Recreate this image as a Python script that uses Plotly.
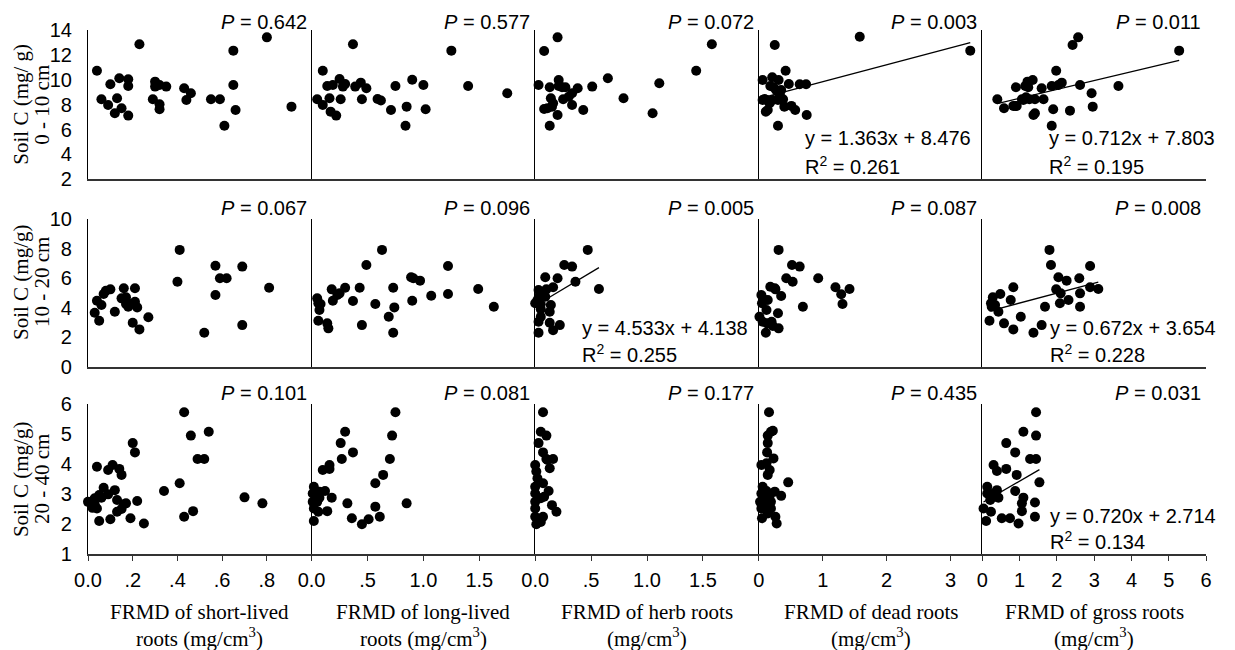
import plotly.graph_objects as go
from plotly.subplots import make_subplots

# soil C (mg/g) against fine root mass density (mg/cm3), one x/y pair per panel

# ---- 0 - 10 cm ----
short_0_10_x = [0.04, 0.23, 0.06, 0.09, 0.10, 0.12, 0.13, 0.14, 0.15, 0.18, 0.18, 0.18, 0.29, 0.30, 0.30,
                0.32, 0.32, 0.32, 0.35, 0.43, 0.46, 0.44, 0.55, 0.59, 0.65, 0.65, 0.66, 0.61, 0.80, 0.91]
short_0_10_y = [10.73, 12.85, 8.43, 7.98, 9.64, 7.31, 8.51, 10.12, 7.71, 10.04, 9.50, 7.12, 8.43, 9.85, 9.45,
                9.58, 8.03, 7.63, 9.45, 9.32, 8.92, 8.38, 8.43, 8.43, 12.34, 9.58, 7.57, 6.31, 13.41, 7.84]

long_0_10_x = [0.05, 0.10, 0.10, 0.14, 0.16, 0.17, 0.19, 0.22, 0.25, 0.26, 0.28, 0.30, 0.37, 0.39, 0.44,
               0.45, 0.49, 0.59, 0.62, 0.71, 0.75, 0.85, 0.84, 0.90, 1.00, 1.02, 1.25, 1.40, 1.75]
long_0_10_y = [8.44, 10.73, 7.98, 9.50, 8.51, 7.44, 9.58, 7.12, 10.06, 8.43, 9.45, 9.66, 12.85, 9.45, 9.77,
               8.43, 9.32, 8.46, 8.33, 7.57, 9.50, 7.84, 6.31, 10.00, 9.58, 7.63, 12.34, 9.50, 8.92]

herb_0_10_x = [0.03, 0.08, 0.20, 0.13, 0.14, 0.16, 0.08, 0.13, 0.20, 0.21, 0.21, 0.24, 0.27, 0.25,
               0.30, 0.33, 0.38, 0.33, 0.43, 0.51, 0.65, 0.79, 1.05, 1.11, 1.44, 1.58, 0.15, 0.11]
herb_0_10_y = [9.58, 12.31, 13.41, 9.40, 8.51, 8.11, 7.65, 6.31, 7.17, 9.98, 9.50, 9.40, 9.40, 8.43,
               8.64, 8.92, 9.32, 7.98, 7.57, 9.45, 10.12, 8.51, 7.31, 9.72, 10.73, 12.85, 7.84, 7.71]

dead_0_10_x = [0.06, 0.09, 0.11, 0.14, 0.18, 0.21, 0.23, 0.25, 0.27, 0.30, 0.30, 0.31, 0.35, 0.38, 0.40,
               0.42, 0.47, 0.51, 0.57, 0.64, 0.74, 0.75, 1.58, 3.31, 0.12, 0.22, 0.33, 0.17, 0.06]
dead_0_10_y = [9.98, 8.46, 7.44, 7.57, 9.50, 10.20, 9.40, 12.80, 9.18, 8.38, 6.31, 9.98, 9.18, 8.43, 7.84,
               10.73, 9.66, 7.90, 7.57, 9.64, 9.64, 7.17, 13.46, 12.34, 8.38, 8.38, 8.78, 8.11, 8.38]

gross_0_10_x = [0.40, 0.58, 0.83, 0.92, 0.90, 1.06, 1.15, 1.17, 1.21, 1.23, 1.26, 1.35, 1.37, 1.41, 1.41, 1.59, 1.64,
                1.86, 1.90, 1.86, 1.98, 2.04, 2.13, 2.35, 2.42, 2.57, 2.62, 2.93, 2.96, 3.65, 5.28, 0.88, 1.10]
gross_0_10_y = [8.43, 7.71, 7.90, 7.90, 9.40, 8.43, 9.50, 8.59, 9.85, 9.40, 8.43, 9.98, 7.17, 7.31, 8.43, 9.32, 8.43,
                9.50, 7.63, 6.31, 10.73, 9.58, 9.77, 7.52, 12.80, 13.41, 9.58, 8.92, 7.84, 9.50, 12.34, 7.90, 8.38]

# ---- 10 - 20 cm ----
short_10_20_x = [0.03, 0.04, 0.05, 0.06, 0.07, 0.08, 0.10, 0.12, 0.16, 0.15, 0.17, 0.17, 0.18, 0.19, 0.20,
                 0.21, 0.21, 0.22, 0.23, 0.27, 0.41, 0.40, 0.52, 0.57, 0.57, 0.59, 0.62, 0.69, 0.69, 0.81]
short_10_20_y = [3.67, 4.48, 3.13, 4.19, 4.94, 5.16, 5.25, 3.74, 5.32, 4.64, 4.71, 4.26, 4.07, 4.26, 2.99,
                 5.32, 4.41, 4.03, 2.54, 3.36, 7.92, 5.77, 2.31, 4.87, 6.85, 6.00, 6.00, 6.79, 2.83, 5.36]

long_10_20_x = [0.05, 0.06, 0.08, 0.07, 0.06, 0.14, 0.15, 0.18, 0.19, 0.23, 0.25, 0.30, 0.37, 0.43, 0.45, 0.49,
                0.57, 0.63, 0.69, 0.73, 0.74, 0.73, 0.89, 0.91, 0.97, 0.90, 1.07, 1.22, 1.22, 1.49, 1.63]
long_10_20_y = [4.64, 4.31, 4.26, 3.85, 3.13, 2.95, 2.61, 5.25, 4.48, 4.87, 4.98, 5.36, 4.46, 5.36, 2.83, 6.90,
                4.26, 7.92, 3.40, 5.36, 4.03, 2.31, 6.07, 6.00, 5.84, 4.48, 4.82, 6.83, 4.94, 5.27, 4.07]

herb_10_20_x = [0.03, 0.04, 0.02, 0.05, 0.05, 0.05, 0.03, 0.09, 0.10, 0.14, 0.13, 0.13, 0.16,
                0.20, 0.16, 0.22, 0.26, 0.33, 0.36, 0.47, 0.57, 0.06, 0.00, 0.09, 0.03]
herb_10_20_y = [5.21, 4.80, 4.53, 4.24, 3.90, 3.40, 2.31, 6.07, 5.25, 4.19, 3.74, 2.99, 2.49,
                6.00, 5.39, 2.83, 6.90, 6.79, 5.77, 7.92, 5.27, 4.98, 4.31, 4.75, 3.06]

dead_10_20_x = [0.01, 0.04, 0.05, 0.09, 0.11, 0.12, 0.13, 0.14, 0.18, 0.22, 0.25, 0.26, 0.30, 0.31,
                0.31, 0.35, 0.43, 0.52, 0.53, 0.64, 0.69, 0.93, 1.20, 1.29, 1.31, 1.42, 0.06, 0.20]
dead_10_20_y = [3.40, 4.87, 4.31, 4.53, 2.31, 3.85, 2.95, 4.53, 5.43, 2.77, 5.32, 5.25, 3.63, 2.61,
                7.92, 4.80, 6.00, 6.90, 5.77, 6.79, 4.07, 6.00, 5.39, 4.92, 4.26, 5.27, 3.06, 3.06]

gross_10_20_x = [0.19, 0.23, 0.28, 0.34, 0.43, 0.48, 0.58, 0.76, 0.83, 0.83, 1.03, 1.37, 1.59, 1.68, 1.80,
                 1.84, 1.98, 2.04, 2.08, 2.26, 2.31, 2.60, 2.62, 2.62, 2.89, 2.89, 3.11, 2.10, 0.25]
gross_10_20_y = [3.13, 4.31, 4.71, 4.19, 3.74, 4.94, 2.95, 4.53, 5.39, 2.54, 3.40, 2.31, 2.83, 4.07, 7.92,
                 6.90, 5.25, 6.07, 4.31, 5.84, 4.53, 6.00, 4.98, 4.07, 6.83, 5.39, 5.27, 4.98, 4.07]

# ---- 20 - 40 cm ----
short_20_40_x = [0.00, 0.02, 0.03, 0.04, 0.04, 0.05, 0.05, 0.06, 0.07, 0.09, 0.10, 0.09, 0.11, 0.12, 0.13, 0.13,
                 0.14, 0.15, 0.15, 0.16, 0.17, 0.19, 0.20, 0.21, 0.22, 0.25, 0.34, 0.41, 0.43, 0.43, 0.46, 0.47,
                 0.49, 0.52, 0.54, 0.70, 0.78, 0.03]
short_20_40_y = [2.74, 2.54, 2.86, 3.91, 2.52, 2.10, 2.97, 2.88, 3.21, 2.99, 2.16, 3.80, 3.97, 3.13, 2.80, 2.41,
                 3.84, 2.50, 3.64, 2.66, 2.69, 2.19, 4.70, 4.39, 2.77, 2.02, 3.10, 3.36, 5.73, 2.24, 4.95, 2.43,
                 4.17, 4.17, 5.08, 2.89, 2.69, 2.66]

long_20_40_x = [0.02, 0.01, 0.01, 0.02, 0.02, 0.05, 0.07, 0.07, 0.06, 0.10, 0.12, 0.14, 0.16, 0.16, 0.18, 0.26,
                0.27, 0.30, 0.32, 0.36, 0.37, 0.45, 0.51, 0.57, 0.57, 0.61, 0.64, 0.70, 0.72, 0.75, 0.85]
long_20_40_y = [3.24, 3.02, 2.74, 2.52, 2.10, 2.74, 2.88, 3.08, 2.41, 3.80, 3.10, 2.43, 3.97, 3.84, 2.88, 4.70,
                4.17, 5.08, 2.69, 2.19, 4.39, 1.99, 2.16, 3.36, 2.58, 2.24, 3.64, 4.17, 4.95, 5.73, 2.69]

herb_20_40_x = [0.07, 0.05, 0.10, 0.03, 0.00, 0.01, 0.02, 0.00, 0.00, 0.00, 0.00, 0.00, 0.01,
                0.07, 0.10, 0.13, 0.16, 0.07, 0.12, 0.15, 0.19, 0.07, 0.05, 0.11, 0.05, 0.08]
herb_20_40_y = [5.73, 5.08, 4.95, 4.70, 3.97, 3.75, 3.53, 3.24, 3.02, 2.74, 2.52, 2.24, 1.99,
                4.39, 4.17, 3.86, 4.17, 3.36, 3.10, 2.63, 2.41, 2.24, 2.07, 4.14, 2.86, 2.91]

dead_20_40_x = [0.16, 0.19, 0.22, 0.14, 0.14, 0.13, 0.23, 0.04, 0.17, 0.14, 0.06, 0.04, 0.02, 0.04,
                0.05, 0.12, 0.17, 0.19, 0.25, 0.35, 0.26, 0.28, 0.46, 0.12, 0.19, 0.12, 0.14, 0.09]
dead_20_40_y = [5.73, 5.08, 5.11, 4.95, 4.70, 4.39, 4.19, 3.97, 3.80, 3.64, 3.24, 3.02, 2.74, 2.52,
                2.19, 3.10, 2.94, 2.74, 3.08, 2.94, 2.24, 2.02, 3.39, 2.63, 2.52, 4.03, 2.35, 2.86]

gross_20_40_x = [1.44, 1.10, 1.44, 0.64, 0.88, 0.30, 0.39, 0.64, 0.92, 1.28, 1.44, 1.53, 0.13, 0.13, 0.39,
                 0.43, 0.88, 1.10, 1.06, 1.06, 1.41, 0.03, 0.23, 0.52, 0.74, 0.97, 1.41, 0.10, 0.21, 0.30]
gross_20_40_y = [5.73, 5.08, 4.95, 4.70, 4.39, 3.97, 3.77, 3.84, 3.64, 4.17, 4.17, 3.39, 3.24, 3.02, 3.13,
                 2.88, 3.10, 2.88, 2.69, 2.43, 2.72, 2.52, 2.41, 2.19, 2.19, 2.02, 2.24, 2.10, 2.80, 3.02]

# P values per depth, columns in root order
p_0_10 = ["0.642", "0.577", "0.072", "0.003", "0.011"]
p_10_20 = ["0.067", "0.096", "0.005", "0.087", "0.008"]
p_20_40 = ["0.101", "0.081", "0.177", "0.435", "0.031"]

# significant linear fits: (row, col), slope, intercept, R2
fit_panels = [(0, 3), (0, 4), (1, 2), (1, 4), (2, 4)]
fit_slope = [1.363, 0.712, 4.533, 0.672, 0.720]
fit_intercept = [8.476, 7.803, 4.138, 3.654, 2.714]
fit_r2 = ["0.261", "0.195", "0.255", "0.228", "0.134"]

root_names = ["FRMD of short-lived", "FRMD of long-lived", "FRMD of herb roots",
              "FRMD of dead roots", "FRMD of gross roots"]
root_units = ["roots (mg/cm<sup>3</sup>)", "roots (mg/cm<sup>3</sup>)", "(mg/cm<sup>3</sup>)",
              "(mg/cm<sup>3</sup>)", "(mg/cm<sup>3</sup>)"]
soil_c_titles = ["Soil C (mg/ g)", "Soil C (mg/g)", "Soil C (mg/g)"]
depth_titles = ["0 - 10 cm", "10 - 20 cm", "20 - 40 cm"]

x_tickvals = [[0, 0.2, 0.4, 0.6, 0.8], [0, 0.5, 1.0, 1.5], [0, 0.5, 1.0, 1.5], [0, 1, 2, 3], [0, 1, 2, 3, 4, 5, 6]]
x_ticktext = [["0.0", ".2", ".4", ".6", ".8"], ["0.0", ".5", "1.0", "1.5"], ["0.0", ".5", "1.0", "1.5"],
              ["0", "1", "2", "3"], ["0", "1", "2", "3", "4", "5", "6"]]
y_tickvals = [[2, 4, 6, 8, 10, 12, 14], [0, 2, 4, 6, 8, 10], [1, 2, 3, 4, 5, 6]]

panels = [
    [(short_0_10_x, short_0_10_y), (long_0_10_x, long_0_10_y), (herb_0_10_x, herb_0_10_y),
     (dead_0_10_x, dead_0_10_y), (gross_0_10_x, gross_0_10_y)],
    [(short_10_20_x, short_10_20_y), (long_10_20_x, long_10_20_y), (herb_10_20_x, herb_10_20_y),
     (dead_10_20_x, dead_10_20_y), (gross_10_20_x, gross_10_20_y)],
    [(short_20_40_x, short_20_40_y), (long_20_40_x, long_20_40_y), (herb_20_40_x, herb_20_40_y),
     (dead_20_40_x, dead_20_40_y), (gross_20_40_x, gross_20_40_y)],
]
p_rows = [p_0_10, p_10_20, p_20_40]

x_ranges = [[0, 1], [0, 2], [0, 2], [0, 3.5], [0, 6]]
y_ranges = [[2, 14], [0, 10], [1, 6]]
col_domains = [[0, 0.2], [0.2, 0.4], [0.4, 0.6], [0.6, 0.8], [0.8, 1]]
row_domains = [[0.715, 1], [0.357, 0.639], [0, 0.286]]

SANS = "Liberation Sans, Arial, sans-serif"
SERIF = "Liberation Serif, Times New Roman, serif"

fig = make_subplots(rows=3, cols=5, horizontal_spacing=0, vertical_spacing=0.05)

for r in range(3):
    for c in range(5):
        x, y = panels[r][c]
        fig.add_trace(go.Scatter(x=x, y=y, mode="markers", cliponaxis=False, showlegend=False,
                                 marker=dict(color="black", size=10)), row=r + 1, col=c + 1)

for (r, c), slope, icpt in zip(fit_panels, fit_slope, fit_intercept):
    x = panels[r][c][0]
    xs = [min(x), max(x)]
    fig.add_trace(go.Scatter(x=xs, y=[slope * v + icpt for v in xs], mode="lines", showlegend=False,
                             cliponaxis=False, line=dict(color="black", width=1.3)), row=r + 1, col=c + 1)

annotations = []
p_shift = [-5, -2, -2]
for r in range(3):
    for c in range(5):
        n = r * 5 + c + 1
        sfx = "" if n == 1 else str(n)
        fig.layout["xaxis" + sfx].update(
            domain=col_domains[c], range=x_ranges[c], showgrid=False, zeroline=False,
            showline=True, linecolor="#333333", linewidth=2,
            ticks="outside" if r == 2 else "", ticklen=5, tickcolor="#333333",
            tickvals=x_tickvals[c], ticktext=x_ticktext[c], showticklabels=(r == 2),
            ticklabelstandoff=2, tickfont=dict(family=SANS, size=20, color="black"))
        fig.layout["yaxis" + sfx].update(
            domain=row_domains[r], range=y_ranges[r], showgrid=False, zeroline=False,
            showline=True, linecolor="black", linewidth=1.2, ticks="",
            tickvals=y_tickvals[r], showticklabels=(c == 0), ticklabelstandoff=11,
            tickfont=dict(family=SANS, size=20, color="black"))
        annotations.append(dict(
            xref="x%s domain" % sfx, yref="y%s domain" % sfx, x=1, y=1, xanchor="right", yanchor="bottom",
            xshift=-3, yshift=p_shift[r], showarrow=False, text="<i>P</i> = " + p_rows[r][c],
            font=dict(family=SANS, size=20, color="black")))

# fit equations (left edge / vertical place inside the panel domain)
eq_pos = {(0, 3): (0.196, 0.277, 0.096), (0, 4): (0.288, 0.277, 0.096),
          (1, 2): (0.201, 0.263, 0.093), (1, 4): (0.292, 0.263, 0.093),
          (2, 4): (0.292, 0.254, 0.092)}
for (r, c), slope, icpt, r2 in zip(fit_panels, fit_slope, fit_intercept, fit_r2):
    n = r * 5 + c + 1
    ex, ey1, ey2 = eq_pos[(r, c)]
    for txt, ey in [("y = %.3fx + %.3f" % (slope, icpt), ey1), ("R<sup>2</sup> = " + r2, ey2)]:
        annotations.append(dict(
            xref="x%d domain" % n, yref="y%d domain" % n, x=ex, y=ey, xanchor="left", yanchor="middle",
            showarrow=False, text=txt, font=dict(family=SANS, size=20, color="black")))

# y titles, two rotated lines per row
ytitle_shift = [0, 11, 0]
for r in range(3):
    n = r * 5 + 1
    sfx = "" if n == 1 else str(n)
    for txt, xs in [(soil_c_titles[r], -67), (depth_titles[r], -46)]:
        annotations.append(dict(
            xref="paper", yref="y%s domain" % sfx, x=0, y=0.5, xshift=xs, yshift=ytitle_shift[r],
            xanchor="center", yanchor="middle", textangle=-90, showarrow=False, text=txt,
            font=dict(family=SERIF, size=21, color="black")))

# x titles under each column
for c in range(5):
    for txt, ys in [(root_names[c], -58), (root_units[c], -83)]:
        annotations.append(dict(
            xref="x%d domain" % (11 + c), yref="paper", x=0.5, y=0, yshift=ys,
            xanchor="center", yanchor="middle", showarrow=False, text=txt,
            font=dict(family=SERIF, size=21, color="black")))

# page body adds 8px around the figure, so the figure is 8px smaller each way
fig.update_layout(
    width=1227, height=642, margin=dict(l=80, r=29, t=22, b=96),
    plot_bgcolor="white", paper_bgcolor="white", annotations=annotations,
)

fig.write_html("out.html")
